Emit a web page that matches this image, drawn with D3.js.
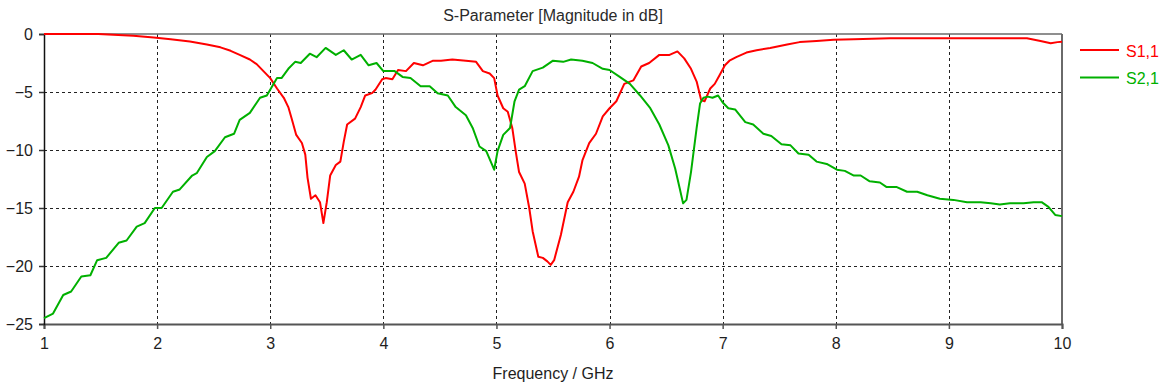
<!DOCTYPE html>
<html>
<head>
<meta charset="utf-8">
<script src="https://cdn.jsdelivr.net/npm/d3@7"></script>
<style>
  html, body { margin: 0; padding: 0; background: #fff; }
  svg { display: block; font-family: "Liberation Sans", Arial, sans-serif; }
</style>
</head>
<body>
<svg id="chart" width="1162" height="390"></svg>
<script>
// ---- data ----
const chartTitle = "S-Parameter [Magnitude in dB]";
const xAxisTitle = "Frequency / GHz";
const xTicks = [1, 2, 3, 4, 5, 6, 7, 8, 9, 10];
const yTicks = [0, -5, -10, -15, -20, -25];
const seriesNames = ["S1,1", "S2,1"];

const s11Freq = [1.0, 1.48, 1.79, 1.97, 2.12, 2.29, 2.44, 2.56, 2.65, 2.73, 2.82, 2.88, 2.94, 3.0, 3.06, 3.12, 3.16, 3.19, 3.23, 3.28, 3.31, 3.33, 3.36, 3.40, 3.44, 3.47, 3.50, 3.53, 3.58, 3.62, 3.65, 3.68, 3.75, 3.80, 3.84, 3.90, 3.93, 3.99, 4.02, 4.08, 4.13, 4.20, 4.27, 4.35, 4.44, 4.51, 4.61, 4.73, 4.82, 4.88, 4.94, 4.98, 5.01, 5.06, 5.10, 5.14, 5.17, 5.20, 5.25, 5.29, 5.32, 5.37, 5.41, 5.45, 5.48, 5.51, 5.57, 5.63, 5.68, 5.73, 5.76, 5.82, 5.88, 5.94, 6.0, 6.06, 6.13, 6.21, 6.28, 6.35, 6.44, 6.53, 6.60, 6.66, 6.72, 6.77, 6.81, 6.84, 6.89, 6.93, 6.97, 7.02, 7.06, 7.12, 7.21, 7.30, 7.42, 7.57, 7.68, 7.83, 7.98, 8.16, 8.48, 9.04, 9.69, 9.81, 9.90, 9.96, 10.0];
const s11dB = [0.0, 0.0, -0.15, -0.3, -0.45, -0.65, -0.9, -1.15, -1.45, -1.8, -2.2, -2.6, -3.2, -3.8, -4.7, -5.5, -6.3, -7.3, -8.7, -9.4, -10.4, -12.4, -14.2, -13.9, -14.5, -16.3, -14.5, -12.2, -11.3, -11.0, -9.3, -7.8, -7.3, -6.3, -5.3, -5.1, -4.8, -3.9, -3.8, -3.9, -3.1, -3.2, -2.5, -2.7, -2.3, -2.3, -2.2, -2.3, -2.4, -3.2, -3.4, -3.8, -5.3, -6.4, -6.7, -8.1, -10.1, -11.9, -12.9, -15.0, -17.0, -19.2, -19.3, -19.6, -19.9, -19.5, -17.3, -14.5, -13.6, -12.3, -10.9, -9.4, -8.6, -7.1, -6.4, -5.8, -4.3, -4.0, -2.8, -2.5, -1.8, -1.8, -1.5, -2.1, -3.0, -4.1, -5.7, -5.8, -4.7, -4.3, -3.6, -2.7, -2.3, -2.0, -1.6, -1.4, -1.2, -0.9, -0.7, -0.6, -0.5, -0.45, -0.37, -0.37, -0.37, -0.6, -0.8, -0.7, -0.66];

const s21Freq = [1.0, 1.08, 1.17, 1.24, 1.33, 1.41, 1.47, 1.55, 1.66, 1.73, 1.82, 1.89, 1.98, 2.04, 2.14, 2.20, 2.31, 2.35, 2.44, 2.51, 2.60, 2.68, 2.73, 2.82, 2.91, 2.97, 3.06, 3.10, 3.16, 3.22, 3.27, 3.35, 3.41, 3.49, 3.58, 3.65, 3.72, 3.80, 3.87, 3.94, 4.0, 4.10, 4.17, 4.24, 4.33, 4.41, 4.48, 4.57, 4.64, 4.73, 4.79, 4.85, 4.91, 4.98, 5.01, 5.06, 5.12, 5.16, 5.20, 5.25, 5.32, 5.41, 5.50, 5.59, 5.66, 5.76, 5.85, 5.94, 6.0, 6.09, 6.18, 6.27, 6.36, 6.44, 6.52, 6.58, 6.62, 6.65, 6.68, 6.72, 6.77, 6.80, 6.83, 6.87, 6.91, 6.96, 7.0, 7.05, 7.11, 7.20, 7.27, 7.36, 7.43, 7.52, 7.60, 7.67, 7.76, 7.83, 7.92, 8.01, 8.08, 8.16, 8.22, 8.30, 8.39, 8.45, 8.54, 8.63, 8.72, 8.81, 8.92, 9.04, 9.16, 9.28, 9.37, 9.45, 9.54, 9.66, 9.75, 9.82, 9.88, 9.94, 10.0];
const s21dB = [-24.5, -24.1, -22.5, -22.2, -20.9, -20.8, -19.5, -19.3, -18.0, -17.8, -16.6, -16.3, -15.0, -15.0, -13.6, -13.4, -12.2, -12.0, -10.6, -10.1, -8.9, -8.6, -7.4, -6.8, -5.5, -5.3, -3.8, -3.8, -3.0, -2.4, -2.5, -1.7, -2.0, -1.2, -1.8, -1.4, -2.2, -1.8, -2.7, -2.5, -3.2, -3.2, -3.7, -3.8, -4.5, -4.5, -5.1, -5.3, -6.3, -7.0, -8.1, -9.7, -10.1, -11.7, -10.1, -8.7, -8.1, -5.8, -4.8, -4.5, -3.2, -2.9, -2.3, -2.4, -2.2, -2.3, -2.5, -3.0, -3.1, -3.7, -4.3, -5.3, -6.4, -7.8, -9.6, -11.6, -13.3, -14.6, -14.3, -11.9, -8.1, -6.0, -5.5, -5.4, -5.5, -5.3, -5.9, -6.4, -6.5, -7.6, -7.8, -8.6, -8.8, -9.5, -9.6, -10.3, -10.4, -11.0, -11.2, -11.7, -11.8, -12.2, -12.2, -12.7, -12.8, -13.2, -13.2, -13.6, -13.6, -13.9, -14.2, -14.3, -14.5, -14.5, -14.6, -14.7, -14.6, -14.6, -14.5, -14.5, -14.9, -15.6, -15.7];

// ---- layout ----
const svg = d3.select("#chart");
const pL = 44, pR = 1062, pT = 34, pB = 324;
const x = d3.scaleLinear().domain([1, 10]).range([pL, pR]);
const y = d3.scaleLinear().domain([-25, 0]).range([pB, pT]);
const colors = ["#ff0000", "#00b000"];
const textColor = "#1e1e1e";

// grid
const grid = svg.append("g");
grid.selectAll("line.v").data(xTicks.filter(d => d > 1 && d < 10)).enter().append("line")
  .attr("x1", d => Math.round(x(d)) + 0.5).attr("x2", d => Math.round(x(d)) + 0.5)
  .attr("y1", pT).attr("y2", pB)
  .attr("stroke", "#222").attr("stroke-width", 1).attr("stroke-dasharray", "3,3");
grid.selectAll("line.h").data(yTicks.filter(d => d < 0 && d > -25)).enter().append("line")
  .attr("y1", d => Math.round(y(d)) + 0.5).attr("y2", d => Math.round(y(d)) + 0.5)
  .attr("x1", pL).attr("x2", pR)
  .attr("stroke", "#222").attr("stroke-width", 1).attr("stroke-dasharray", "3,3");

// frame (top, right)
svg.append("line").attr("x1", pL).attr("x2", pR).attr("y1", pT).attr("y2", pT)
  .attr("stroke", "#6a6a6a").attr("stroke-width", 1.5);
svg.append("line").attr("x1", pR).attr("x2", pR).attr("y1", pT).attr("y2", pB)
  .attr("stroke", "#6a6a6a").attr("stroke-width", 2);

// x axis
const xAxis = d3.axisBottom(x).tickValues(xTicks).tickFormat(d3.format("d")).tickSize(5).tickPadding(9);
const gx = svg.append("g").attr("transform", `translate(0,${pB})`).call(xAxis);
gx.select(".domain").attr("stroke", "#555").attr("stroke-width", 2);
gx.selectAll(".tick line").attr("stroke", "#555").attr("stroke-width", 1.5);
gx.selectAll(".tick text").attr("fill", textColor).style("font-size", "16px")
  .style("font-family", "'Liberation Sans', Arial, sans-serif");

// y axis
const yAxis = d3.axisLeft(y).tickValues(yTicks).tickFormat(d3.format("d")).tickSize(5).tickPadding(6);
const gy = svg.append("g").attr("transform", `translate(${pL},0)`).call(yAxis);
gy.select(".domain").attr("stroke", "#111").attr("stroke-width", 1.5);
gy.selectAll(".tick line").attr("stroke", "#333").attr("stroke-width", 1.5);
gy.selectAll(".tick text").attr("fill", textColor).style("font-size", "16px")
  .style("font-family", "'Liberation Sans', Arial, sans-serif");

// lines
const line = d3.line().x(d => x(d[0])).y(d => y(d[1]));
const s11 = s11Freq.map((f, i) => [f, s11dB[i]]);
const s21 = s21Freq.map((f, i) => [f, s21dB[i]]);
[s11, s21].forEach((data, i) => {
  svg.append("path").datum(data).attr("d", line)
    .attr("fill", "none").attr("stroke", colors[i]).attr("stroke-width", 2)
    .attr("stroke-linejoin", "round");
});

// title
svg.append("text").attr("x", 553).attr("y", 21).attr("text-anchor", "middle")
  .attr("fill", "#2a2a2a").style("font-size", "16px").text(chartTitle);

// x axis title
svg.append("text").attr("x", 553).attr("y", 379).attr("text-anchor", "middle")
  .attr("fill", textColor).style("font-size", "16px").text(xAxisTitle);

// legend
const legend = svg.append("g");
seriesNames.forEach((name, i) => {
  const ly = 50 + i * 27.5;
  legend.append("line").attr("x1", 1080).attr("x2", 1119).attr("y1", ly).attr("y2", ly)
    .attr("stroke", colors[i]).attr("stroke-width", 2);
  legend.append("text").attr("x", 1126).attr("y", ly + 6.5).attr("fill", colors[i])
    .style("font-size", "16px").text(name);
});
</script>
</body>
</html>
